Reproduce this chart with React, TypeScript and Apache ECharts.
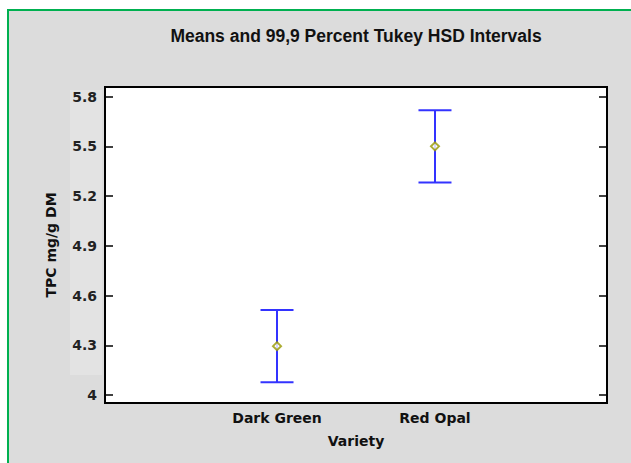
import React, { useEffect, useRef } from "react";
import * as echarts from "echarts";

const categories = ["Dark Green", "Red Opal"];
const means = [4.295, 5.5];
const lowerLimits = [4.077, 5.282];
const upperLimits = [4.513, 5.718];
const yTickValues = [4, 4.3, 4.6, 4.9, 5.2, 5.5, 5.8];
const xPositions = [1, 2];

export default function App() {
  const ref = useRef<HTMLDivElement>(null);
  useEffect(() => {
    document.body.style.margin = "0";
    const chart = echarts.init(ref.current!, null, { renderer: "svg" });
    const barData = xPositions.map((x, i) => [x, lowerLimits[i], upperLimits[i]]);
    const meanData = xPositions.map((x, i) => [x, means[i]]);
    const yMin = 3.952;
    const yMax = 5.858;
    const tickStyle = { show: true, inside: true, length: 8, lineStyle: { color: "#000", width: 1.5 }, customValues: yTickValues };
    chart.setOption({
      animation: false,
      backgroundColor: "#ffffff",
      graphic: [
        {
          type: "rect",
          z: -10,
          silent: true,
          shape: { x: 8, y: 10, width: 640, height: 470 },
          style: { fill: "#dcdcdc", stroke: "#00b050", lineWidth: 2 },
        },
        {
          type: "rect",
          z: -9,
          silent: true,
          shape: { x: 70, y: 90, width: 32, height: 285 },
          style: { fill: "#e3e3e3" },
        },
        {
          type: "text",
          x: 356,
          y: 36,
          style: {
            text: "Means and 99,9 Percent Tukey HSD Intervals",
            fill: "#111",
            font: "bold 17.5px 'Liberation Sans', Arial, sans-serif",
            align: "center",
            verticalAlign: "middle",
          },
        },
      ],
      grid: {
        left: 105,
        top: 87,
        width: 502,
        height: 316,
        show: true,
        backgroundColor: "#ffffff",
        borderColor: "#000000",
        borderWidth: 2,
      },
      xAxis: {
        type: "value",
        min: -0.089,
        max: 3.089,
        name: "Variety",
        nameLocation: "middle",
        nameGap: 31,
        nameTextStyle: { fontFamily: "DejaVu Sans", fontWeight: "bold", fontSize: 14, color: "#111" },
        axisLine: { show: false, onZero: false },
        axisTick: { show: false },
        splitLine: { show: false },
        axisLabel: {
          customValues: xPositions,
          formatter: (v: number) => categories[Math.round(v) - 1] ?? "",
          fontFamily: "DejaVu Sans",
          fontWeight: "bold",
          fontSize: 14,
          color: "#111",
          margin: 8,
        },
      },
      yAxis: [
        {
          type: "value",
          min: yMin,
          max: yMax,
          position: "left",
          name: "TPC mg/g DM",
          nameLocation: "middle",
          nameGap: 47,
          nameTextStyle: { fontFamily: "DejaVu Sans", fontWeight: "bold", fontSize: 14, color: "#111" },
          axisLine: { show: false, onZero: false },
          splitLine: { show: false },
          axisTick: tickStyle,
          axisLabel: {
            customValues: yTickValues,
            formatter: (v: number) => String(Math.round(v * 10) / 10),
            fontFamily: "DejaVu Sans",
            fontWeight: "bold",
            fontSize: 14,
            color: "#222",
            margin: 8,
          },
        },
        {
          type: "value",
          min: yMin,
          max: yMax,
          position: "right",
          axisLine: { show: false, onZero: false },
          splitLine: { show: false },
          axisTick: tickStyle,
          axisLabel: { show: false },
        },
      ],
      series: [
        {
          type: "custom",
          data: barData,
          renderItem: (params: any, api: any) => {
            const x = api.value(0);
            const lo = api.coord([x, api.value(1)]);
            const hi = api.coord([x, api.value(2)]);
            const half = 16.5;
            const style = { stroke: "#3333ff", lineWidth: 2 };
            return {
              type: "group",
              children: [
                { type: "line", shape: { x1: lo[0], y1: lo[1], x2: hi[0], y2: hi[1] }, style },
                { type: "line", shape: { x1: hi[0] - half, y1: hi[1], x2: hi[0] + half, y2: hi[1] }, style },
                { type: "line", shape: { x1: lo[0] - half, y1: lo[1], x2: lo[0] + half, y2: lo[1] }, style },
              ],
            };
          },
          z: 2,
        },
        {
          type: "scatter",
          data: meanData,
          symbol: "emptyDiamond",
          symbolSize: 8,
          itemStyle: { color: "#999900", borderWidth: 1.5 },
          z: 3,
        },
      ],
    });
    return () => chart.dispose();
  }, []);
  return <div ref={ref} style={{ width: 631, height: 463 }} />;
}
